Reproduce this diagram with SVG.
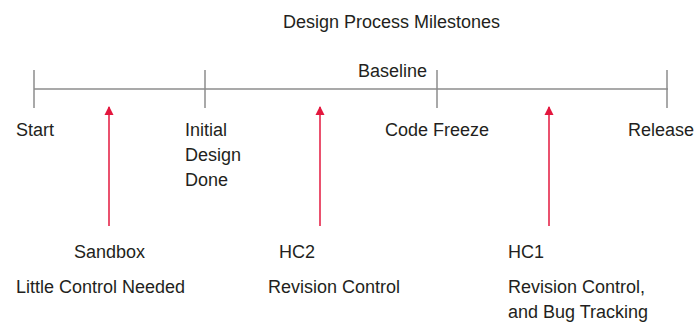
<svg xmlns="http://www.w3.org/2000/svg" width="699" height="322" viewBox="0 0 699 322">
<defs>
<style>
text{font-family:"Liberation Sans",Arial,sans-serif;font-size:18px;fill:#231f20}
.axis{stroke:#8c8c8c;stroke-width:1.5;fill:none}
.arrow{stroke:#e3173e;stroke-width:1.5;fill:none}
</style>
<marker id="ah" markerWidth="9" markerHeight="9" refX="8" refY="4.5" orient="auto" markerUnits="userSpaceOnUse" viewBox="0 0 9 9" overflow="visible">
<path d="M0,0 L9,4.5 L0,9 Z" fill="#e3173e"/>
</marker>
</defs>
<rect width="699" height="322" fill="#ffffff"/>
<text id="title" x="283" y="28">Design Process Milestones</text>
<g id="timeline">
<line class="axis" x1="34" y1="89" x2="668" y2="89"/>
</g>
<g id="start"><line class="axis" x1="34" y1="70" x2="34" y2="108"/><text x="16" y="136">Start</text></g>
<g id="initial-design-done"><line class="axis" x1="205" y1="70" x2="205" y2="108"/><text x="185" y="136">Initial</text><text x="185" y="161">Design</text><text x="185" y="186">Done</text></g>
<g id="baseline"><text x="358" y="77">Baseline</text></g>
<g id="code-freeze"><line class="axis" x1="437" y1="70" x2="437" y2="108"/><text x="385" y="136">Code Freeze</text></g>
<g id="release"><line class="axis" x1="667" y1="70" x2="667" y2="108"/><text x="694" y="136" text-anchor="end">Release</text></g>
<g id="connectors">
<line class="arrow" x1="109" y1="226" x2="109" y2="107" marker-end="url(#ah)"/>
<line class="arrow" x1="320" y1="226" x2="320" y2="107" marker-end="url(#ah)"/>
<line class="arrow" x1="549" y1="226" x2="549" y2="107" marker-end="url(#ah)"/>
</g>
<g id="sandbox"><text x="74" y="258">Sandbox</text><text x="16" y="293">Little Control Needed</text></g>
<g id="hc2"><text x="279" y="258">HC2</text><text x="268" y="293">Revision Control</text></g>
<g id="hc1"><text x="508" y="258">HC1</text><text x="508" y="293">Revision Control,</text><text x="508" y="318">and Bug Tracking</text></g>
</svg>
